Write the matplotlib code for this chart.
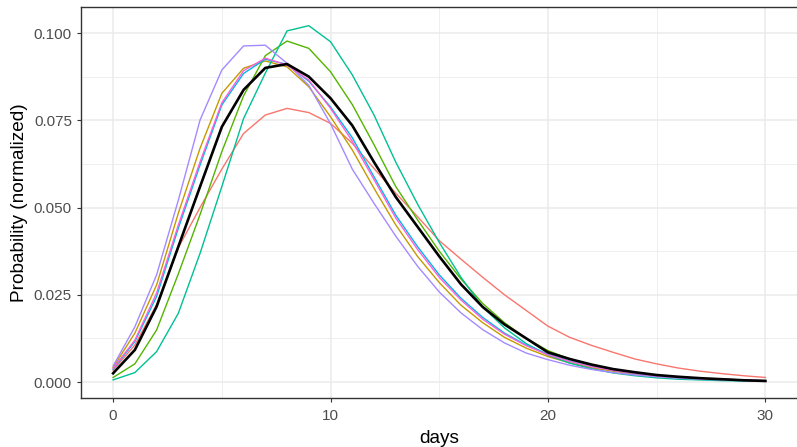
import matplotlib
matplotlib.use("Agg")
import matplotlib.pyplot as plt
import numpy as np

plt.rcParams['font.family'] = ['Liberation Sans', 'DejaVu Sans']

days = np.arange(0, 31)

# one curve per group (ggplot hue order), plus the mean in black
red = [0.0034, 0.0106, 0.0222, 0.0385, 0.0500, 0.0610, 0.0712, 0.0765, 0.0784, 0.0772,
       0.0741, 0.0684, 0.0612, 0.0541, 0.0474, 0.0405, 0.0352, 0.0300, 0.0250, 0.0205,
       0.0160, 0.0128, 0.0105, 0.0085, 0.0066, 0.0052, 0.0040, 0.0031, 0.0024, 0.0018, 0.0013]
gold = [0.0042, 0.0140, 0.0278, 0.0484, 0.0670, 0.0827, 0.0899, 0.0920, 0.0903, 0.0846,
        0.0760, 0.0665, 0.0555, 0.0450, 0.0360, 0.0285, 0.0220, 0.0170, 0.0128, 0.0097,
        0.0073, 0.0055, 0.0041, 0.0031, 0.0023, 0.0017, 0.0013, 0.0010, 0.0007, 0.0005, 0.0004]
green = [0.0013, 0.0052, 0.0149, 0.0310, 0.0480, 0.0660, 0.0820, 0.0935, 0.0977, 0.0956,
         0.0889, 0.0795, 0.0680, 0.0560, 0.0465, 0.0375, 0.0295, 0.0225, 0.0170, 0.0125,
         0.0090, 0.0066, 0.0048, 0.0035, 0.0025, 0.0018, 0.0013, 0.0009, 0.0006, 0.0004, 0.0003]
teal = [0.0006, 0.0027, 0.0087, 0.0197, 0.0369, 0.0560, 0.0755, 0.0885, 0.1006, 0.1021,
        0.0975, 0.0880, 0.0765, 0.0630, 0.0510, 0.0400, 0.0300, 0.0215, 0.0155, 0.0110,
        0.0077, 0.0054, 0.0038, 0.0026, 0.0018, 0.0012, 0.0008, 0.0006, 0.0004, 0.0003, 0.0002]
blue = [0.0037, 0.0116, 0.0245, 0.0441, 0.0622, 0.0794, 0.0884, 0.0925, 0.0910, 0.0862,
        0.0788, 0.0700, 0.0588, 0.0478, 0.0388, 0.0307, 0.0240, 0.0185, 0.0140, 0.0106,
        0.0080, 0.0060, 0.0045, 0.0034, 0.0025, 0.0019, 0.0014, 0.0010, 0.0008, 0.0006, 0.0004]
purple = [0.0046, 0.0158, 0.0307, 0.0521, 0.0751, 0.0894, 0.0963, 0.0965, 0.0913, 0.0850,
          0.0740, 0.0610, 0.0512, 0.0418, 0.0332, 0.0258, 0.0198, 0.0150, 0.0112, 0.0083,
          0.0064, 0.0048, 0.0036, 0.0027, 0.0020, 0.0015, 0.0011, 0.0008, 0.0006, 0.0004, 0.0003]
pink = [0.0039, 0.0120, 0.0255, 0.0450, 0.0631, 0.0800, 0.0892, 0.0928, 0.0908, 0.0865,
        0.0784, 0.0690, 0.0580, 0.0470, 0.0380, 0.0300, 0.0235, 0.0180, 0.0137, 0.0104,
        0.0078, 0.0059, 0.0044, 0.0033, 0.0025, 0.0018, 0.0014, 0.0010, 0.0008, 0.0006, 0.0004]
mean = [0.0025, 0.0092, 0.0216, 0.0388, 0.0560, 0.0731, 0.0837, 0.0900, 0.0911, 0.0875,
        0.0813, 0.0735, 0.0630, 0.0530, 0.0445, 0.0360, 0.0280, 0.0215, 0.0165, 0.0125,
        0.0085, 0.0066, 0.0050, 0.0037, 0.0028, 0.0020, 0.0015, 0.0011, 0.0008, 0.0005, 0.0003]

series = [red, gold, green, teal, blue, purple, pink]
colors = ["#F8766D", "#C49A00", "#53B400", "#00C094", "#00B6EB", "#A58AFF", "#FB61D7"]

fig = plt.figure(figsize=(7.97, 4.47), dpi=100)
ax = fig.add_axes([80.5 / 797, 49 / 447, 717.5 / 797, 391 / 447])

for s, c in zip(series, colors):
    ax.plot(days, s, color=c, lw=1.0)
ax.plot(days, mean, color="black", lw=1.9)

ax.set_xlim(-1.5, 31.5)
ax.set_ylim(-0.00458, 0.10745)
ax.set_xticks([0, 10, 20, 30])
ax.set_xticks([5, 15, 25], minor=True)
ax.set_yticks([0, 0.025, 0.05, 0.075, 0.1])
ax.set_yticklabels(["0.000", "0.025", "0.050", "0.075", "0.100"])
ax.set_yticks([0.0125, 0.0375, 0.0625, 0.0875], minor=True)

ax.grid(which="major", color="#EBEBEB", lw=1.1)
ax.grid(which="minor", color="#EBEBEB", lw=0.55)
ax.set_axisbelow(True)
for sp in ax.spines.values():
    sp.set_color("#333333")
    sp.set_linewidth(1.0)
ax.spines["right"].set_visible(False)

ax.tick_params(which="major", length=3.2, width=0.8, color="#333333",
               labelcolor="#4D4D4D", labelsize=11, pad=3)
ax.tick_params(axis="x", which="major", pad=5)
ax.tick_params(which="minor", length=0)

ax.set_xlabel("days", fontsize=13.7, labelpad=5)
ax.set_ylabel("Probability (normalized)", fontsize=13.7, labelpad=4)

fig.savefig("out.png", dpi=100)
